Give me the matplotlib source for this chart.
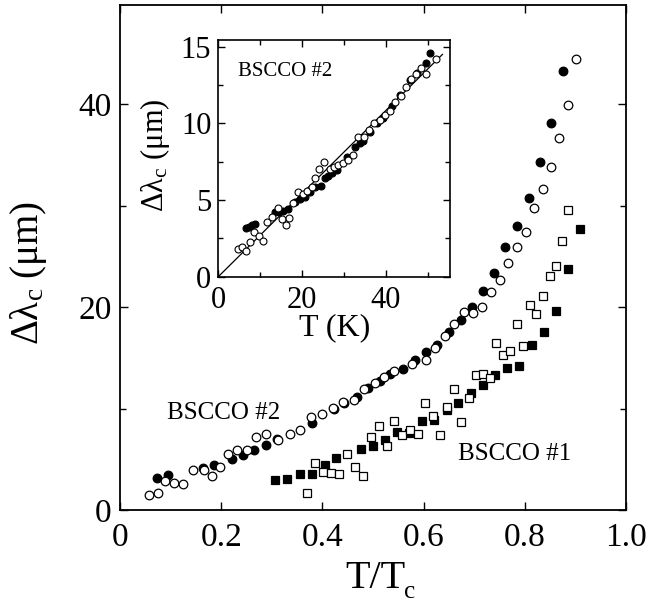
import matplotlib
matplotlib.use("Agg")
import matplotlib.pyplot as plt
from matplotlib.ticker import FixedLocator

plt.rcParams['font.family'] = ['Liberation Serif', 'DejaVu Serif']
plt.rcParams['mathtext.fontset'] = 'custom'
plt.rcParams['mathtext.rm'] = 'Liberation Serif'
plt.rcParams['mathtext.it'] = 'Liberation Serif:italic'

# ---------------- main panel data (T/Tc, Delta lambda_c in um) ----------------
b2_filled_x = [0.0725, 0.0955, 0.165, 0.186, 0.221, 0.2425, 0.265, 0.2885, 0.310,
               0.379, 0.423, 0.443, 0.468, 0.491, 0.514, 0.534, 0.559, 0.583, 0.605,
               0.627, 0.650, 0.674, 0.695, 0.717, 0.740, 0.761, 0.785, 0.808, 0.830,
               0.852, 0.875]
b2_filled_y = [3.2, 3.47, 4.19, 4.43, 5.02, 5.42, 5.94, 6.37, 7.0,
               8.58, 9.97, 10.56, 11.16, 12.0, 12.7, 13.4, 13.9, 14.75, 15.6,
               16.3, 17.6, 18.7, 20.0, 21.6, 23.4, 25.9, 28.05, 30.8, 34.3,
               38.15, 43.3]

b2_open_x = [0.058, 0.0745, 0.0895, 0.107, 0.124, 0.145, 0.166, 0.181, 0.198, 0.214,
             0.232, 0.250, 0.269, 0.288, 0.313, 0.335, 0.356, 0.377, 0.399, 0.420,
             0.441, 0.462, 0.483, 0.503, 0.522, 0.542, 0.578, 0.604, 0.623, 0.642,
             0.661, 0.680, 0.698, 0.716, 0.733, 0.750, 0.767, 0.785, 0.802, 0.818,
             0.835, 0.852, 0.868, 0.885, 0.902]
b2_open_y = [1.51, 1.68, 2.87, 2.67, 2.60, 3.93, 3.93, 3.37, 4.26, 5.54,
             5.87, 5.87, 7.16, 7.52, 6.90, 7.46, 7.85, 9.18, 9.48, 10.03,
             10.66, 10.86, 11.9, 12.5, 13.1, 13.7, 14.4, 14.75, 16.0, 17.2,
             18.3, 19.5, 19.4, 20.0, 21.5, 22.7, 24.4, 25.9, 27.4, 29.8,
             31.7, 33.8, 36.7, 39.9, 44.5]

b1_filled_x = [0.307, 0.331, 0.355, 0.380, 0.405, 0.427, 0.476, 0.500, 0.524, 0.548,
               0.572, 0.596, 0.620, 0.646, 0.667, 0.693, 0.717, 0.741, 0.765, 0.789,
               0.814, 0.838, 0.862, 0.886, 0.910]
b1_filled_y = [3.0, 3.1, 3.55, 3.58, 4.47, 5.13, 6.04, 6.35, 6.93, 7.68,
               7.55, 8.82, 8.9, 9.9, 10.6, 11.55, 12.28, 13.27, 14.0, 14.2,
               16.3, 17.55, 19.6, 23.8, 27.7]

b1_open_x = [0.369, 0.385, 0.401, 0.417, 0.433, 0.448, 0.465, 0.481, 0.496, 0.511,
             0.527, 0.542, 0.557, 0.573, 0.588, 0.603, 0.618, 0.632, 0.647, 0.661,
             0.674, 0.690, 0.703, 0.717, 0.731, 0.744, 0.757, 0.771, 0.784, 0.797,
             0.811, 0.823, 0.836, 0.849, 0.862, 0.874, 0.886]
b1_open_y = [1.65, 4.6, 3.7, 3.63, 3.58, 5.54, 4.22, 3.4, 7.18, 8.25,
             6.34, 8.74, 7.35, 7.92, 7.45, 10.6, 9.24, 7.43, 10.2, 11.9,
             8.7, 11.06, 13.3, 13.37, 13.0, 16.5, 15.25, 15.7, 18.3, 16.2,
             20.2, 19.3, 21.1, 23.1, 24.1, 26.5, 29.6]

main_xticks = [0, 0.2, 0.4, 0.6, 0.8, 1.0]
main_xticklabels = ['0', '0.2', '0.4', '0.6', '0.8', '1.0']
main_yticks = [0, 20, 40]

# ---------------- inset data (T in K, Delta lambda_c in um) ----------------
in_filled_x = [6.5, 7.4, 8.0, 8.7, 13.5, 14.5, 15.5, 16.6, 18.3, 19.5, 20.7, 21.9,
               23.1, 24.5, 25.5, 26.3, 27.2, 28.3, 30.6, 32.6, 33.8, 34.6, 36.2,
               37.8, 39.2, 41.4, 43.4, 45.8, 47.5, 49.6, 50.5]
in_filled_y = [3.2, 3.25, 3.35, 3.45, 4.24, 4.25, 4.3, 4.4, 4.9, 5.05, 5.22, 5.55,
               5.87, 5.92, 6.42, 6.57, 6.78, 6.96, 7.83, 8.44, 8.7, 8.87, 9.46,
               10.0, 10.33, 11.13, 11.85, 12.83, 13.3, 13.96, 14.57]

in_open_x = [4.8, 5.6, 6.5, 7.6, 8.6, 9.6, 10.6, 11.6, 12.7, 14.2, 15.1, 16.1, 16.9,
             17.9, 19.1, 20.3, 21.1, 22.3, 23.1, 24.1, 25.3, 26.7, 27.6, 28.6, 29.7,
             31.0, 32.2, 33.4, 34.8, 36.0, 37.2, 38.6, 39.8, 41.0, 42.2, 43.5, 44.8,
             45.9, 47.1, 48.3, 49.5, 52.0]
in_open_y = [1.81, 1.92, 1.70, 2.24, 2.94, 2.65, 2.33, 3.55, 3.87, 4.5, 3.74, 3.37, 3.8,
             4.79, 5.5, 5.4, 5.6, 5.87, 6.42, 7.0, 7.5, 7.0, 7.17, 7.29, 7.44,
             7.61, 7.94, 9.13, 9.13, 9.57, 10.0, 10.22, 10.55, 10.83, 11.42, 11.79, 12.4,
             12.88, 13.2, 13.6, 13.22, 14.18]

fit_x = [0, 53.5]
fit_y = [0, 14.5]

# ---------------- figure ----------------
fig = plt.figure(figsize=(6.51, 6.05), dpi=100)
W, H = 651, 605
ax = fig.add_axes([120 / W, 1 - 510 / H, (626 - 120) / W, (510 - 5) / H])

ms_c = 6.2
ms_s = 5.6
ew = 0.9
ax.plot(b2_filled_x, b2_filled_y, 'o', ms=ms_c, mfc='black', mec='black', mew=ew, zorder=3)
ax.plot(b2_open_x, b2_open_y, 'o', ms=ms_c, mfc='white', mec='black', mew=ew, zorder=3)
ax.plot(b1_filled_x, b1_filled_y, 's', ms=ms_s, mfc='black', mec='black', mew=ew, zorder=3)
ax.plot(b1_open_x, b1_open_y, 's', ms=ms_s, mfc='white', mec='black', mew=ew, zorder=3)

ax.set_xlim(0, 1.0)
ax.set_ylim(0, 49.8)
ax.xaxis.set_major_locator(FixedLocator(main_xticks))
ax.set_xticklabels(main_xticklabels)
ax.yaxis.set_major_locator(FixedLocator(main_yticks))
ax.yaxis.set_minor_locator(FixedLocator([10, 30]))
ax.tick_params(which='both', direction='in', top=True, right=True, width=1.0)
ax.tick_params(which='major', length=6)
ax.tick_params(which='minor', length=4)
ax.tick_params(axis='x', labelsize=24, pad=9)
ax.tick_params(axis='y', labelsize=24, pad=6)
for s in ax.spines.values():
    s.set_linewidth(1.3)

# x label: "T/T" with a small, well-lowered subscript "c"
ax.text(0.4447, -0.1545, 'T/T', transform=ax.transAxes, fontsize=29,
        ha='left', va='baseline')
ax.text(0.562, -0.1845, 'c', transform=ax.transAxes, fontsize=18,
        ha='left', va='bottom')
ax.text(-0.180, 0.469, '\u0394\u03bb$_{\\rm c}$ (\u03bcm)', transform=ax.transAxes,
        fontsize=28, rotation=90, ha='center', va='center')

ax.text(0.0923, 9.55, 'BSCCO #2', fontsize=18, ha='left', va='center')
ax.text(0.6686, 5.53, 'BSCCO #1', fontsize=18, ha='left', va='center')

# ---------------- inset ----------------
ins = fig.add_axes([218.3 / W, 1 - 276.7 / H, (450 - 218.3) / W, (276.7 - 39.5) / H])
ins.plot(fit_x, fit_y, '-', color='black', lw=0.9, zorder=2)
ms_i = 5.0
ins.plot(in_filled_x, in_filled_y, 'o', ms=ms_i, mfc='black', mec='black', mew=0.8, zorder=3)
ins.plot(in_open_x, in_open_y, 'o', ms=ms_i, mfc='white', mec='black', mew=0.8, zorder=3)
ins.set_xlim(0, 55.3)
ins.set_ylim(0, 15.47)
ins.xaxis.set_major_locator(FixedLocator([0, 20, 40]))
ins.xaxis.set_minor_locator(FixedLocator([10, 30, 50]))
ins.yaxis.set_major_locator(FixedLocator([0, 5, 10, 15]))
ins.yaxis.set_minor_locator(FixedLocator([2.5, 7.5, 12.5]))
ins.tick_params(which='both', direction='in', top=True, right=True, width=1.0)
ins.tick_params(which='major', length=5)
ins.tick_params(which='minor', length=3.5)
ins.tick_params(axis='x', labelsize=22, pad=7)
ins.tick_params(axis='y', labelsize=22, pad=5)
for s in ins.spines.values():
    s.set_linewidth(1.2)
ins.text(0.5, -0.214, 'T (K)', transform=ins.transAxes, fontsize=23,
         ha='center', va='center')
ins.text(-0.273, 0.513, '\u0394\u03bb$_{\\rm c}$ (\u03bcm)', transform=ins.transAxes,
         fontsize=22, rotation=90, ha='center', va='center')
ins.text(0.086, 0.864, 'BSCCO #2', transform=ins.transAxes, fontsize=15,
         ha='left', va='center')

fig.savefig('out.png', dpi=100)
